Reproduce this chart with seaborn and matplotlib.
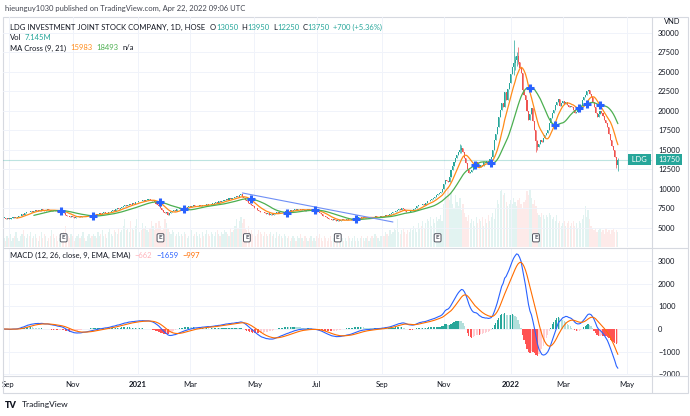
import matplotlib
matplotlib.use("Agg")
import numpy as np
import pandas as pd
import seaborn as sns
import matplotlib.pyplot as plt
import matplotlib.transforms as mtransforms
from matplotlib.patches import Rectangle
from matplotlib.lines import Line2D
from matplotlib.ticker import FuncFormatter

# LDG daily closes in hundreds of VND (63 -> 6,300), 27 Aug 2020 .. 22 Apr 2022
close_h = [
    63, 62, 63, 62, 62, 63, 64, 63, 63, 64, 65, 66, 68, 67, 69, 70,
    71, 70, 72, 71, 72, 73, 72, 73, 72, 74, 73, 72, 73,
    74, 73, 72, 73, 72, 73, 72, 71, 72, 72, 71, 69, 67, 66, 65,
    64, 65, 64, 63, 64, 64, 65, 64, 65, 66, 65, 65, 66,
    66, 67, 66, 67, 68, 67, 68, 69, 68, 69, 70, 69, 69,
    70, 71, 72, 73, 72, 74, 75, 74, 76, 77, 78, 79, 78, 80, 81, 80, 82, 81, 83, 83,
    84, 85, 84, 86, 85, 86, 86, 87, 86, 85, 85, 83, 81, 80, 78, 75, 73,
    71, 69, 70, 67, 69, 71, 72, 73, 72, 74, 74, 75, 76, 75, 77, 76, 77,
    78, 77, 78, 79, 78, 78, 78, 79, 78, 80, 79, 80, 81, 80, 79, 81, 81,
    82, 83, 82, 84, 83, 85, 85, 86, 87, 86, 88, 87, 89, 88, 90, 91, 90, 92, 93,
    90, 88, 86, 84, 82, 81, 80, 78, 76, 75, 73, 72, 71, 70, 71, 69,
    68, 69, 67, 68, 67, 68, 69, 70, 69, 70, 71, 70, 71, 71,
    72, 71, 73, 72, 73, 74, 73, 74, 74, 73, 74, 73, 72, 73, 74, 73,
    73, 72, 72, 72, 71, 70, 69, 68, 66, 65, 64, 63, 62, 61, 60, 61, 60, 59,
    60, 59, 60, 61, 60, 60, 61, 60, 60, 61, 62, 63, 62, 63, 64, 64,
    63, 64, 63, 64, 63, 63, 64, 63, 64, 65, 64, 64, 64,
    65, 66, 65, 67, 66, 67, 68, 69, 70, 71, 72, 73, 74, 73, 75, 74,
    72, 71, 70, 71, 72, 72, 74, 76, 78, 79, 80, 79, 81, 80, 82,
    84, 85, 86, 87, 88, 90, 92, 93, 95, 96, 100, 106, 112, 110, 109,
    116, 124, 130, 135, 140, 144, 148, 150, 153, 147, 140, 133, 126, 120,
    122, 124, 128, 133, 135, 131, 128, 131, 130, 134, 133, 136, 134, 138, 141,
    150, 163, 171, 180, 192, 201, 210, 205, 224, 214, 228, 236,
    248, 256, 262, 265, 270, 263, 255, 249, 227, 220, 214, 200, 189,
    196, 204, 187, 176, 162, 154, 158, 163, 160, 166, 169, 172, 176,
    184, 191, 197, 201, 208, 212, 215, 207, 210, 213, 209, 212,
    208, 205, 207, 205, 201, 198, 199, 202, 205, 208, 214, 218, 221,
    226, 227, 222, 218, 211, 205, 198, 192, 196, 200, 197, 193, 189,
    184, 180, 170, 163, 155, 150, 141, 130.5, 137.5,
]

# daily volume, millions of shares
volume_m = [
    4, 3, 5, 4, 6, 3, 4, 5, 7, 4, 3, 5, 6, 8, 5, 4, 6, 5, 7, 4,
    5, 6, 4, 3, 5, 7, 4, 6, 5, 3, 4, 5, 8, 6, 4, 5, 3, 4, 6, 5,
    7, 10, 6, 5, 4, 6, 5, 3, 4, 5, 6, 4, 5, 7, 4, 3, 5, 6, 4, 5,
    6, 5, 4, 7, 5, 6, 8, 5, 6, 4, 7, 9, 6, 5, 8, 7, 6, 9, 7, 8,
    10, 13, 8, 9, 7, 12, 9, 8, 10, 13, 9, 7, 8, 11, 9, 10, 8, 7, 9, 12,
    10, 8, 11, 9, 12, 10, 8, 9, 13, 11, 9, 7, 6, 8, 7, 5, 6, 7, 5, 6,
    5, 7, 6, 4, 5, 6, 8, 5, 6, 7, 5, 6, 4, 7, 5, 6, 8, 6, 5, 7,
    6, 5, 7, 8, 6, 5, 7, 6, 8, 7, 6, 5, 9, 7, 8, 10, 13, 9, 12, 14,
    11, 13, 9, 8, 10, 7, 8, 6, 7, 5, 6, 8, 7, 6, 5, 7, 6, 5, 6, 7,
    5, 6, 4, 7, 5, 6, 5, 4, 6, 5, 4, 5, 3, 4, 5, 4, 3, 5, 4, 6,
    4, 3, 5, 4, 3, 4, 5, 3, 4, 3, 5, 4, 6, 4, 3, 5, 4, 3, 4, 5,
    3, 4, 5, 3, 4, 3, 5, 4, 3, 4, 3, 5, 4, 3, 4, 5, 3, 4, 3, 4,
    5, 4, 3, 4, 5, 3, 4, 5, 4, 6, 5, 4, 3, 5, 6, 5, 7, 6, 5, 8,
    6, 7, 9, 8, 13, 7, 6, 8, 9, 7, 6, 8, 7, 9, 8, 10, 9, 7, 11, 9,
    10, 12, 9, 11, 13, 12, 14, 10, 13, 11, 14, 12, 13, 15, 12, 20, 27, 23, 28, 22,
    25, 20, 18, 24, 21, 19, 23, 17, 20, 16, 14, 12, 15, 11, 13, 12, 10, 14, 11, 13,
    12, 14, 10, 13, 11, 15, 12, 14, 16, 13, 18, 22, 20, 26, 27, 24, 25, 21, 19, 20,
    22, 20, 23, 21, 19, 22, 23, 20, 18, 21, 22, 26, 24, 27, 23, 20, 22, 19, 16, 15,
    14, 16, 15, 13, 15, 14, 16, 15, 13, 14, 12, 15, 11, 12, 10, 11, 12, 10, 11, 12,
    10, 11, 12, 10, 11, 9, 12, 11, 13, 15, 19, 14, 17, 13, 10, 9, 8, 9, 7, 8,
    9, 7, 8, 6, 9, 7, 8, 6, 8, 9, 7, 8, 7.145,
]

# the few wicks that stick out (bar number, hundreds of VND)
wick_bar = [306, 307, 342, 343, 344, 345, 357, 358, 411, 412]
wick_high = [158, 157, 291, 270, 276, 282, 176, 163, 141, 139.5]
wick_low = [146, 146, 246, 252, 258, 260, 148, 150, 127, 122.5]

holidays = ['2020-09-02', '2021-01-01', '2021-02-10', '2021-02-11', '2021-02-12',
            '2021-02-15', '2021-02-16', '2021-04-21', '2021-04-30', '2021-05-03',
            '2021-09-02', '2021-09-03', '2022-01-03', '2022-01-31', '2022-02-01',
            '2022-02-02', '2022-02-03', '2022-02-04', '2022-04-11', '2022-05-02',
            '2022-05-03']
earnings_dates = ['2020-10-23', '2021-01-25', '2021-04-23', '2021-07-21',
                  '2021-10-26', '2022-01-27']
trend_dates = ['2021-04-19', '2021-09-14']
trend_prices = [9490, 5770]

price_ticks = [5000, 7500, 10000, 12500, 15000, 17500, 20000, 22500, 25000, 27500, 30000]
macd_ticks = [-2000, -1000, 0, 1000, 2000, 3000]

ohlc_names = ['O', 'H', 'L', 'C']
ohlc_vals = ['13050', '13950', '12250', '13750']
change_txt = '+700 (+5.36%)'
vol_txt = '7.145M'
ma_vals = ['15983', '18493', 'n/a']
macd_vals = ['\u2212662', '\u22121659', '\u2212997']

# colours
UP, DOWN = '#26a69a', '#ef5350'
TXT = '#131722'
ORANGE, GREEN, BLUE = '#ff8c1a', '#4caf50', '#2962ff'
GRID = '#f0f3fa'
FRAME = '#d6d9e0'

# ---- derived series ----
close = np.array(close_h, float) * 100
n = len(close)
open_ = np.r_[close[0], close[:-1]]
high = np.maximum(open_, close)
low = np.minimum(open_, close)
high[wick_bar] = np.array(wick_high) * 100
low[wick_bar] = np.array(wick_low) * 100
vol = np.array(volume_m[:n], float)
idx = np.arange(n)

df = pd.DataFrame({'i': idx, 'close': close})
df['ma9'] = df['close'].rolling(9).mean()
df['ma21'] = df['close'].rolling(21).mean()
ema12 = df['close'].ewm(span=12, adjust=False).mean()
ema26 = df['close'].ewm(span=26, adjust=False).mean()
df['macd'] = ema12 - ema26
df['signal'] = df['macd'].ewm(span=9, adjust=False).mean()
df['histo'] = df['macd'] - df['signal']

days = pd.bdate_range('2020-08-27', '2022-06-30')
days = days[~days.isin(pd.to_datetime(holidays))]
pos = pd.Series(np.arange(len(days)), index=days)

XMIN, XMAX = -0.7, 434.9
tick_pos, tick_lab = [], []
for (y, m), p in pos.groupby([days.year, days.month]).first().items():
    if m % 2 == 1 and p < XMAX:
        tick_pos.append(p)
        tick_lab.append(str(y) if m == 1 else pd.Timestamp(y, m, 1).strftime('%b'))

# ---- figure ----
sns.set_theme(style='white')
plt.rcParams['font.family'] = ['Lato', 'DejaVu Sans']
plt.rcParams['axes.unicode_minus'] = True

fig = plt.figure(figsize=(6.9, 4.16), dpi=100)
W, H = 690, 416


def rect(x0, y0, x1, y1):
    return [x0 / W, 1 - y1 / H, (x1 - x0) / W, (y1 - y0) / H]


ax1 = fig.add_axes(rect(3, 17, 652, 247))
axv = ax1.twinx()
ax2 = fig.add_axes(rect(3, 248, 652, 375), sharex=ax1)
ax1.set_zorder(axv.get_zorder() + 1)
ax1.patch.set_visible(False)

# volume
vcol = [(0.15, 0.65, 0.60, 0.13) if c >= o else (0.94, 0.33, 0.31, 0.12)
        for o, c in zip(open_, close)]
axv.bar(idx, vol, width=0.8, color=vcol, linewidth=0)
axv.set_ylim(0, 107)
axv.set_yticks([])

# candles
ccol = np.where(close >= open_, UP, DOWN)
body = np.maximum(np.abs(close - open_), 60)
ax1.vlines(idx, low, high, colors=ccol, lw=0.5, zorder=3)
ax1.bar(idx, body, bottom=np.minimum(open_, close), width=0.7, color=ccol,
        linewidth=0, zorder=3)

sns.lineplot(data=df, x='i', y='ma9', ax=ax1, color=ORANGE, lw=0.9, zorder=4)
sns.lineplot(data=df, x='i', y='ma21', ax=ax1, color=GREEN, lw=0.9, zorder=4)

d = (df['ma9'] - df['ma21']).values
cross = [k for k in range(1, n) if np.isfinite(d[k - 1]) and d[k] * d[k - 1] < 0]
ax1.plot(cross, df['ma21'].values[cross], '+', color=BLUE, ms=6, mew=2.2, zorder=6)

tr_x = [pos.index.searchsorted(pd.Timestamp(t)) for t in trend_dates]
ax1.plot(tr_x, trend_prices, color='#6f8ff5', lw=0.8, zorder=5)

ax1.axhline(close[-1], color=UP, alpha=0.3, lw=0.8, zorder=2)

blend = mtransforms.blended_transform_factory(ax1.transData, ax1.transAxes)
for t in earnings_dates:
    p = pos.index.searchsorted(pd.Timestamp(t))
    ax1.text(p, 0.04, 'E', transform=blend, ha='center', va='center', fontsize=4.6,
             color='#50535e', fontweight='bold', zorder=7,
             bbox=dict(boxstyle='round,pad=0.25,rounding_size=0.2', fc='white',
                       ec='#50535e', lw=0.7))

ax1.set_xlim(XMIN, XMAX)
ax1.set_ylim(2564, 32050)
ax1.set_yticks(price_ticks)
ax1.yaxis.tick_right()
ax1.yaxis.set_major_formatter(FuncFormatter(lambda v, p: f'{v:.0f}'))
ax1.tick_params(axis='y', length=0, pad=4.3, labelsize=5.4, colors=TXT)
ax1.tick_params(axis='x', length=0, labelbottom=False)
ax1.grid(True, color=GRID, lw=0.7)
ax1.set_xlabel('')
ax1.set_ylabel('')

# last price labels
yb = mtransforms.blended_transform_factory(ax1.transAxes, ax1.transData)
ax1.text(0.995, close[-1], ' LDG ', transform=yb, ha='right', va='center', fontsize=5.4,
         color='white', zorder=8,
         bbox=dict(boxstyle='square,pad=0.3', fc=UP, ec='none'))
ax1.text(1.01, close[-1], f'{close[-1]:.0f}', transform=yb, ha='left', va='center',
         fontsize=5.4, color='white', zorder=8, clip_on=False,
         bbox=dict(boxstyle='square,pad=0.3', fc=UP, ec='none'))

# MACD pane
prev = df['histo'].shift(1)
hcol = np.where(df['histo'] >= 0, np.where(df['histo'] > prev, '#26a69a', '#b2dfdb'),
                np.where(df['histo'] < prev, '#ff5252', '#ffcdd2'))
ax2.bar(idx, df['histo'], width=0.8, color=hcol, linewidth=0, zorder=2)
sns.lineplot(data=df, x='i', y='macd', ax=ax2, color=BLUE, lw=0.8, zorder=3)
sns.lineplot(data=df, x='i', y='signal', ax=ax2, color='#ff6d00', lw=0.8, zorder=3)
ax2.set_ylim(-2035, 3584)
ax2.set_yticks(macd_ticks)
ax2.yaxis.tick_right()
ax2.yaxis.set_major_formatter(FuncFormatter(lambda v, p: f'{v:.0f}'.replace('-', '\u2212')))
ax2.tick_params(axis='y', length=0, pad=4.3, labelsize=5.4, colors=TXT)
ax2.set_xticks(tick_pos)
ax2.set_xticklabels(tick_lab)
ax2.tick_params(axis='x', length=0, pad=4.5, labelsize=5.6, colors=TXT)
for lab in ax2.get_xticklabels():
    if lab.get_text().isdigit():
        lab.set_fontweight('bold')
ax2.grid(True, color=GRID, lw=0.7)
ax2.set_xlabel('')
ax2.set_ylabel('')
ax2.set_xlim(XMIN, XMAX)

for a in (ax1, axv, ax2):
    for s in a.spines.values():
        s.set_visible(False)

# frame lines
fig.add_artist(Rectangle((3 / W, 1 - 393 / H), 685 / W, 376 / H, transform=fig.transFigure,
                         fill=False, ec=FRAME, lw=0.8))
for (x0, y0, x1, y1) in [(652, 17, 652, 393), (3, 247.5, 688, 247.5), (3, 376, 688, 376)]:
    fig.add_artist(Line2D([x0 / W, x1 / W], [1 - y0 / H, 1 - y1 / H],
                          transform=fig.transFigure, color=FRAME, lw=0.8))

renderer = fig.canvas.get_renderer()


def pieces(x, y, parts, size=5.5):
    # parts: (text, colour, gap in px after)
    x = x / W
    for s, c, gap in parts:
        t = fig.text(x, 1 - y / H, s, color=c, fontsize=size, ha='left', va='center')
        x += (t.get_window_extent(renderer).width + gap) / W


pieces(5, 8, [('hieunguy1030 published on TradingView.com, Apr 22, 2022 09:06 UTC', '#434651', 0)])
line1 = [('LDG INVESTMENT JOINT STOCK COMPANY, 1D, HOSE', TXT, 5)]
for nm, v in zip(ohlc_names, ohlc_vals):
    line1 += [(nm, TXT, 0.3), (v, UP, 3)]
line1 += [(change_txt, UP, 0)]
pieces(10, 27, line1)
pieces(10, 37.5, [('Vol', TXT, 3), (vol_txt, UP, 0)])
pieces(10, 48, [('MA Cross (9, 21)', TXT, 4), (ma_vals[0], ORANGE, 4),
                (ma_vals[1], GREEN, 4), (ma_vals[2], TXT, 0)])
pieces(10, 255, [('MACD (12, 26, close, 9, EMA, EMA)', TXT, 4), (macd_vals[0], '#ffb3ba', 4),
                 (macd_vals[1], BLUE, 4), (macd_vals[2], '#ff6d00', 0)])
pieces(664, 22, [('VND', TXT, 0)], size=5.4)
pieces(5, 405, [('TV', TXT, 2)], size=6.5)
fig.texts[-1].set_fontweight('heavy')
pieces(22, 405, [('TradingView', TXT, 0)], size=6)

fig.savefig('out.png', dpi=100, facecolor='white')
